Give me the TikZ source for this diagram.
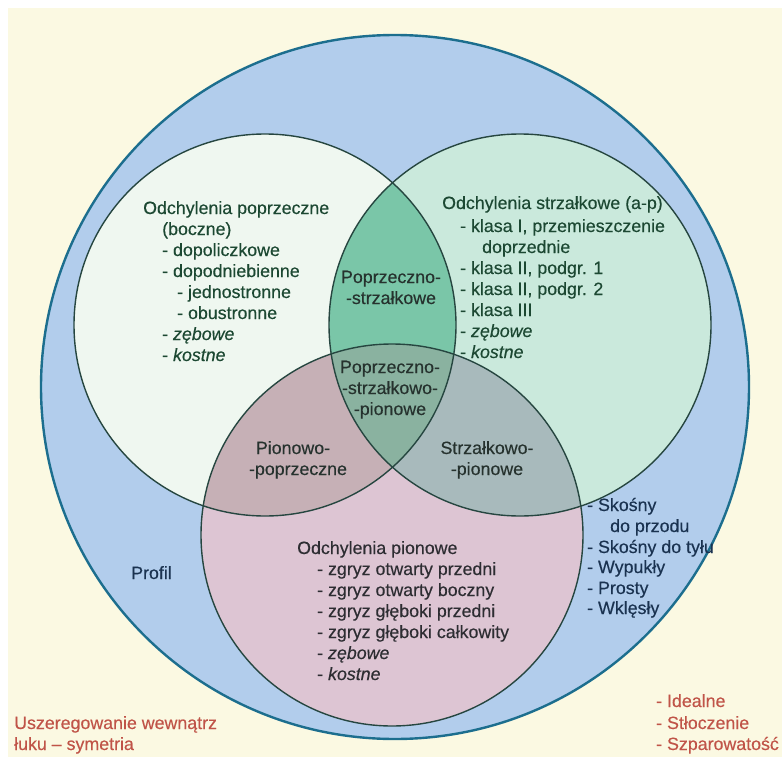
\documentclass[tikz,border=0pt]{standalone}
\usepackage{fontspec}
\setmainfont{Liberation Sans}[FakeBold=0.35]
\definecolor{cream}{RGB}{251,249,226}
\definecolor{outerblue}{RGB}{178,205,236}
\definecolor{outerline}{RGB}{28,110,142}
\definecolor{leftfill}{RGB}{239,247,240}
\definecolor{rightfill}{RGB}{202,233,220}
\definecolor{bottomfill}{RGB}{221,197,211}
\definecolor{lrfill}{RGB}{122,198,168}
\definecolor{lbfill}{RGB}{198,176,182}
\definecolor{rbfill}{RGB}{168,186,188}
\definecolor{centerfill}{RGB}{138,178,160}
\definecolor{circline}{RGB}{38,70,64}
\definecolor{greentext}{RGB}{28,72,50}
\definecolor{darktext}{RGB}{38,50,46}
\definecolor{graytext}{RGB}{45,45,50}
\definecolor{navytext}{RGB}{26,50,80}
\definecolor{redtext}{RGB}{192,84,72}
\tikzset{
  txt/.style={inner sep=0pt, font=\fontsize{17.8}{21}\selectfont},
  lline/.style={txt, anchor=base west, text=greentext},
  rline/.style={txt, anchor=base west, text=greentext},
  bline/.style={txt, anchor=base west, text=graytext},
  mline/.style={txt, anchor=base, text=darktext},
  nline/.style={txt, anchor=base west, text=navytext},
  redline/.style={txt, anchor=base west, text=redtext},
  circ/.style={draw=circline, line width=1.4pt}
}
\begin{document}
\begin{tikzpicture}[x=1pt,y=-1pt]
\useasboundingbox (0,0) rectangle (782,760);
\fill[white] (0,0) rectangle (782,760);
\fill[cream] (8,8) rectangle (782,757);
% outer
\fill[outerblue] (395,387) ellipse [x radius=354, y radius=352];
% circles
\fill[leftfill] (265,325) circle (191);
\fill[rightfill] (520,325) circle (191);
\fill[bottomfill] (392,535) circle (191);
\begin{scope}
  \clip (265,325) circle (191);
  \fill[lrfill] (520,325) circle (191);
  \fill[lbfill] (392,535) circle (191);
\end{scope}
\begin{scope}
  \clip (520,325) circle (191);
  \fill[rbfill] (392,535) circle (191);
  \clip (265,325) circle (191);
  \fill[centerfill] (392,535) circle (191);
\end{scope}
\draw[circ] (265,325) circle (191);
\draw[circ] (520,325) circle (191);
\draw[circ] (392,535) circle (191);
\draw[draw=outerline, line width=2.4pt] (395,387) ellipse [x radius=354, y radius=352];
% left circle text
\node[lline] (l1) at (143,214) {Odchylenia poprzeczne};
\node[lline] (l2) at (162,235) {(boczne)};
\node[lline] (l3) at (162,256) {- dopoliczkowe};
\node[lline] (l4) at (162,277) {- dopodniebienne};
\node[lline] (l5) at (177,298) {- jednostronne};
\node[lline] (l6) at (177,319) {- obustronne};
\node[lline] (l7) at (162,340) {- \textit{zębowe}};
\node[lline] (l8) at (162,361) {- \textit{kostne}};
% right circle text
\node[rline] (r1) at (442,209) {Odchylenia strzałkowe (a-p)};
\node[rline] (r2) at (460,232) {- klasa I, przemieszczenie};
\node[rline] (r3) at (482,253) {doprzednie};
\node[rline] (r4) at (460,274) {- klasa II, podgr. 1};
\node[rline] (r5) at (460,295) {- klasa II, podgr. 2};
\node[rline] (r6) at (460,316) {- klasa III};
\node[rline] (r7) at (460,337) {- \textit{zębowe}};
\node[rline] (r8) at (460,358) {- \textit{kostne}};
% intersections
\node[mline] (ps1) at (391,283) {Poprzeczno-};
\node[mline] (ps2) at (391,304) {-strzałkowe};
\node[mline] (c1) at (390,373) {Poprzeczno-};
\node[mline] (c2) at (390,394) {-strzałkowo-};
\node[mline] (c3) at (390,415) {-pionowe};
\node[mline] (pp1) at (293,454) {Pionowo-};
\node[mline] (pp2) at (298,475) {-poprzeczne};
\node[mline] (sp1) at (487,454) {Strzałkowo-};
\node[mline] (sp2) at (487,475) {-pionowe};
% bottom circle text
\node[bline] (b1) at (297,554) {Odchylenia pionowe};
\node[bline] (b2) at (317,575) {- zgryz otwarty przedni};
\node[bline] (b3) at (317,596) {- zgryz otwarty boczny};
\node[bline] (b4) at (317,617) {- zgryz głęboki przedni};
\node[bline] (b5) at (317,638) {- zgryz głęboki całkowity};
\node[bline] (b6) at (317,659) {- \textit{zębowe}};
\node[bline] (b7) at (317,680) {- \textit{kostne}};
% profile list
\node[nline] (pr) at (131,579) {Profil};
\node[nline] (p1) at (587,511) {- Skośny};
\node[nline] (p2) at (610,532) {do przodu};
\node[nline] (p3) at (587,553) {- Skośny do tyłu};
\node[nline] (p4) at (587,573) {- Wypukły};
\node[nline] (p5) at (587,594) {- Prosty};
\node[nline] (p6) at (587,614) {- Wklęsły};
% red text
\node[redline] (u1) at (14,729) {Uszeregowanie wewnątrz};
\node[redline] (u2) at (14,750) {łuku – symetria};
\node[redline] (s1) at (656,707) {- Idealne};
\node[redline] (s2) at (656,729) {- Stłoczenie};
\node[redline] (s3) at (656,750) {- Szparowatość};
\end{tikzpicture}
\end{document}
